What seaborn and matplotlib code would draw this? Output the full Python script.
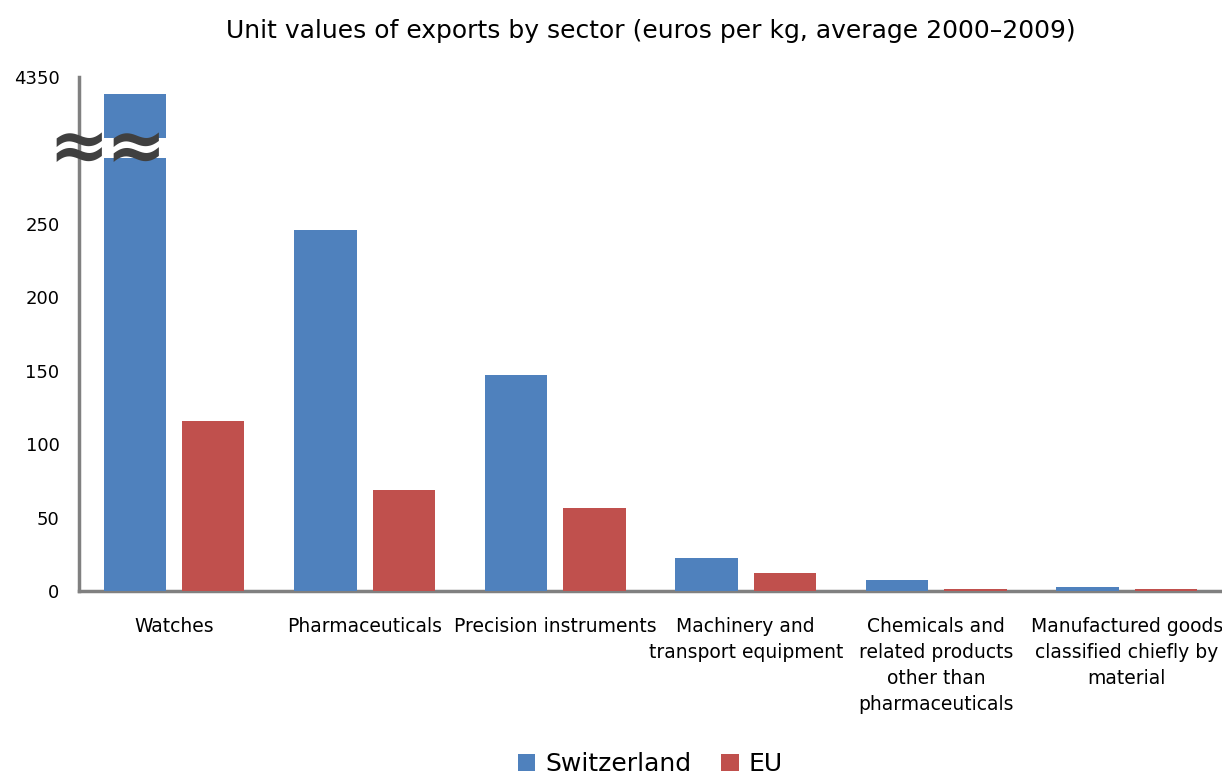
import numpy as np
import pandas as pd
import matplotlib
matplotlib.use("Agg")
import matplotlib.pyplot as plt
from matplotlib.patches import Rectangle
import seaborn as sns

# Data (euros per kg, average 2000-2009)
sectors = ["Watches", "Pharmaceuticals", "Precision instruments",
           "Machinery and\ntransport equipment",
           "Chemicals and\nrelated products\nother than\npharmaceuticals",
           "Manufactured goods\nclassified chiefly by\nmaterial"]
switzerland = [3400, 246, 147, 22.5, 7.5, 3]
eu = [116, 68.5, 56.5, 12.5, 1.5, 1.5]
y_ticks = [0, 50, 100, 150, 200, 250, 4350]

df = pd.DataFrame({
    "sector": sectors * 2,
    "value": switzerland + eu,
    "region": ["Switzerland"] * len(sectors) + ["EU"] * len(sectors),
})

# broken axis: linear up to 300, then 300..4350 squeezed into 50 units
BREAK, TOP = 300, 4350
SQUEEZE = 50 / (TOP - BREAK)

def fwd(v):
    v = np.asarray(v, dtype=float)
    return np.where(v <= BREAK, v, BREAK + (v - BREAK) * SQUEEZE)

def inv(v):
    v = np.asarray(v, dtype=float)
    return np.where(v <= BREAK, v, BREAK + (v - BREAK) / SQUEEZE)

sns.set_style("white")
plt.rcParams["font.family"] = ["DejaVu Sans"]
plt.rcParams["text.color"] = "black"

fig = plt.figure(figsize=(12.22, 7.74), dpi=100)
ax = fig.add_axes([0.0646, 0.2364, 0.9354, 0.6641])

sns.barplot(data=df, x="sector", y="value", hue="region",
            palette={"Switzerland": "#4F81BD", "EU": "#C0504D"},
            width=0.82, gap=0.2, ax=ax, legend=True, saturation=1,
            linewidth=0, zorder=3)

ax.set_yscale("function", functions=(fwd, inv))
ax.set_ylim(0, TOP)
ax.set_xlim(-0.5, len(sectors) - 0.5)
ax.set_yticks(y_ticks)
ax.set_yticklabels([str(t) for t in y_ticks], fontsize=13)
ax.tick_params(axis="y", length=6, width=2, color="#808080", labelcolor="black", pad=8)
ax.tick_params(axis="x", length=0, pad=19, labelsize=13.5, labelcolor="black")
for lbl in ax.get_xticklabels():
    lbl.set_multialignment("center")
    lbl.set_linespacing(1.45)
ax.set_xlabel("")
ax.set_ylabel("")

sns.despine(ax=ax, top=True, right=True)
for side in ["left", "bottom"]:
    ax.spines[side].set_color("#808080")
    ax.spines[side].set_linewidth(2.5)

# white gap across the tall bar and break symbols
tall = ax.patches[0]
ax.add_patch(Rectangle((tall.get_x(), 295), tall.get_width(), 1000 - 295,
                       facecolor="white", edgecolor="none", zorder=5))
for xpos in [-0.5, tall.get_x() + tall.get_width() / 2]:
    ax.text(xpos, 300, "\u2248", fontsize=52,
            fontweight="bold", color="#404040", ha="center", va="center",
            zorder=6, clip_on=False)

ax.set_title("Unit values of exports by sector (euros per kg, average 2000\u20132009)",
             fontsize=18, pad=28, color="black")

leg = ax.legend(loc="upper center", bbox_to_anchor=(0.5, -0.27), ncol=2,
                frameon=False, fontsize=18, handlelength=0.7, handleheight=0.7,
                handletextpad=0.4, columnspacing=1.2)

fig.savefig("out.png", dpi=100)
